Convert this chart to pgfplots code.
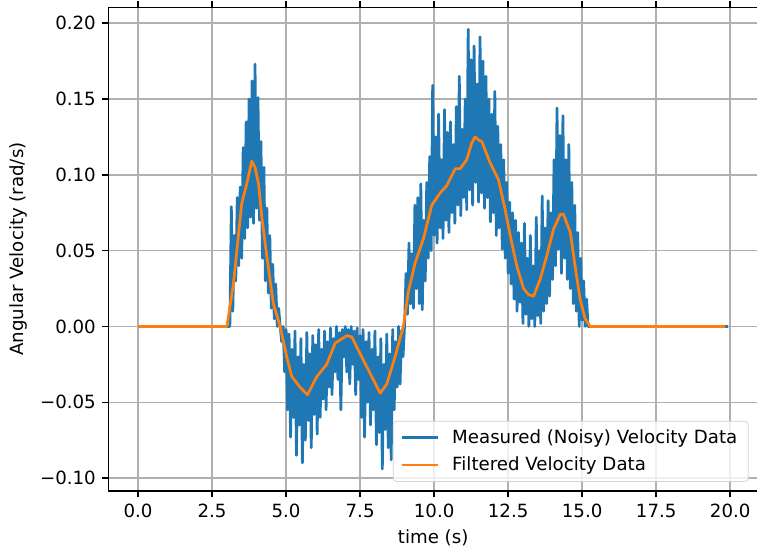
\documentclass[border=0pt]{standalone}
\usepackage{fontspec}
\setmainfont{DejaVu Sans}
\usepackage{pgfplots}
\pgfplotsset{compat=1.18}

\definecolor{mplblue}{HTML}{1F77B4}
\definecolor{mplorange}{HTML}{FF7F0E}
\definecolor{gridgray}{HTML}{B0B0B0}

\begin{document}
\begin{tikzpicture}
\begin{axis}[
    name=ax,
    scale only axis,
    width=357pt, height=266pt,
    xmin=-0.997, xmax=20.93,
    ymin=-0.1085, ymax=0.2105,
    xtick={0,2.5,5,7.5,10,12.5,15,17.5,20},
    xticklabels={0.0,2.5,5.0,7.5,10.0,12.5,15.0,17.5,20.0},
    ytick={-0.1,-0.05,0,0.05,0.1,0.15,0.2},
    yticklabels={−0.10,−0.05,0.00,0.05,0.10,0.15,0.20},
    /pgf/number format/assume math mode=true,
    tick align=outside,
    major tick length=3.5pt,
    every tick/.style={black, line width=0.8pt},
    axis line style={line width=0.8pt},
    grid=major,
    major grid style={gridgray, line width=0.8pt},
    tick label style={font=\fontsize{10}{12}\selectfont},
    label style={font=\fontsize{10}{12}\selectfont},
    xlabel={time (s)},
    ylabel={Angular Velocity (rad/s)},
    legend style={at={(1,0)}, anchor=south east, xshift=-5pt, yshift=5pt,
        draw=black!18, rounded corners=2pt, fill=white, fill opacity=0.8,
        text opacity=1, font=\fontsize{10}{12}\selectfont,
        inner xsep=4pt, inner ysep=2.5pt, row sep=2pt,
        /tikz/every odd column/.append style={column sep=5pt}},
    legend cell align=left,
    legend image code/.code={\draw[#1, line width=1.5pt] (0pt,0pt) -- (20pt,0pt);},
]
\addplot[mplblue, line width=1.5pt, line join=round] coordinates {
(0,0) (3.10,0)
(3.15,0.079) (3.20,0.010) (3.25,0.060) (3.30,0.030) (3.35,0.085) (3.40,0.040)
(3.45,0.092) (3.50,0.045) (3.55,0.118) (3.60,0.058) (3.65,0.135) (3.70,0.065)
(3.75,0.150) (3.80,0.072) (3.85,0.162) (3.90,0.068) (3.95,0.173) (4.00,0.078)
(4.05,0.151) (4.10,0.070) (4.15,0.122) (4.20,0.045) (4.25,0.105) (4.30,0.030)
(4.35,0.078) (4.40,0.022) (4.45,0.060) (4.50,0.012) (4.55,0.041) (4.60,0.005)
(4.65,0.028) (4.70,0.000) (4.75,0.012) (4.80,0.000)
(4.85,-0.010) (4.90,0.000) (4.95,-0.030) (5.00,-0.002) (5.05,-0.055) (5.10,-0.005)
(5.15,-0.073) (5.20,-0.015) (5.25,-0.060) (5.30,-0.003) (5.35,-0.085) (5.40,-0.020)
(5.45,-0.065) (5.50,-0.008) (5.55,-0.090) (5.60,-0.025) (5.65,-0.075) (5.70,-0.004)
(5.75,-0.062) (5.80,-0.018) (5.85,-0.080) (5.90,-0.006) (5.95,-0.058) (6.00,-0.012)
(6.05,-0.071) (6.10,-0.002) (6.15,-0.060) (6.20,-0.015) (6.25,-0.048) (6.30,-0.003)
(6.35,-0.055) (6.40,-0.010) (6.45,-0.040) (6.50,-0.001) (6.55,-0.045) (6.60,-0.008)
(6.65,-0.030) (6.70,0.000) (6.75,-0.035) (6.80,-0.004) (6.85,-0.055) (6.90,-0.002)
(6.95,-0.020) (7.00,0.000) (7.05,-0.030) (7.10,-0.002) (7.15,-0.038) (7.20,0.000)
(7.25,-0.025) (7.30,-0.003) (7.35,-0.045) (7.40,-0.001) (7.45,-0.035) (7.50,-0.006)
(7.55,-0.060) (7.60,-0.002) (7.65,-0.073) (7.70,-0.010) (7.75,-0.050) (7.80,-0.004)
(7.85,-0.065) (7.90,-0.015) (7.95,-0.055) (8.00,-0.003) (8.05,-0.078) (8.10,-0.020)
(8.15,-0.070) (8.20,-0.008) (8.25,-0.094) (8.30,-0.025) (8.35,-0.068) (8.40,-0.005)
(8.45,-0.080) (8.50,-0.018) (8.55,-0.088) (8.60,-0.002) (8.65,-0.055) (8.70,-0.010)
(8.75,-0.040) (8.80,0.000) (8.85,-0.038) (8.90,-0.003) (8.95,-0.020)
(9.00,0.000) (9.05,0.035) (9.10,0.008) (9.15,0.055) (9.20,0.015) (9.25,0.048)
(9.30,0.012) (9.35,0.080) (9.40,0.025) (9.45,0.085) (9.50,0.015) (9.55,0.094)
(9.60,0.011) (9.65,0.070) (9.70,0.030) (9.75,0.095) (9.80,0.045) (9.85,0.112)
(9.90,0.050) (9.95,0.159) (10.00,0.060) (10.05,0.125) (10.10,0.055) (10.15,0.140)
(10.20,0.065) (10.25,0.110) (10.30,0.058) (10.35,0.143) (10.40,0.070) (10.45,0.128)
(10.50,0.062) (10.55,0.135) (10.60,0.075) (10.65,0.120) (10.70,0.068) (10.75,0.145)
(10.80,0.080) (10.85,0.165) (10.90,0.073) (10.95,0.130) (11.00,0.085) (11.05,0.150)
(11.10,0.077) (11.15,0.196) (11.20,0.090) (11.25,0.176) (11.30,0.080) (11.35,0.185)
(11.40,0.095) (11.45,0.160) (11.50,0.082) (11.55,0.191) (11.60,0.088) (11.65,0.175)
(11.70,0.078) (11.75,0.165) (11.80,0.085) (11.85,0.150) (11.90,0.069) (11.95,0.140)
(12.00,0.075) (12.05,0.155) (12.10,0.060) (12.15,0.132) (12.20,0.065) (12.25,0.120)
(12.30,0.051) (12.35,0.110) (12.40,0.045) (12.45,0.095) (12.50,0.035) (12.55,0.082)
(12.60,0.028) (12.65,0.075) (12.70,0.018) (12.75,0.070) (12.80,0.010) (12.85,0.062)
(12.90,0.016) (12.95,0.055) (13.00,0.002) (13.05,0.068) (13.10,0.008) (13.15,0.045)
(13.20,0.000) (13.25,0.060) (13.30,0.005) (13.35,0.040) (13.40,0.000) (13.45,0.072)
(13.50,0.007) (13.55,0.050) (13.60,0.002) (13.65,0.086) (13.70,0.010) (13.75,0.065)
(13.80,0.015) (13.85,0.083) (13.90,0.020) (13.95,0.075) (14.00,0.031) (14.05,0.110)
(14.10,0.040) (14.15,0.144) (14.20,0.051) (14.25,0.126) (14.30,0.035) (14.35,0.139)
(14.40,0.045) (14.45,0.110) (14.50,0.031) (14.55,0.120) (14.60,0.025) (14.65,0.095)
(14.70,0.015) (14.75,0.080) (14.80,0.010) (14.85,0.062) (14.90,0.000) (14.95,0.045)
(15.00,0.004) (15.05,0.030) (15.10,0.000) (15.15,0.018) (15.20,0.000) (15.25,0.000)
(19.93,0)
};
\addlegendentry{Measured (Noisy) Velocity Data}
\addplot[mplorange, line width=1.5pt, line join=round] coordinates {
(0,0) (3.00,0) (3.22,0.028) (3.50,0.081) (3.67,0.094) (3.84,0.109) (3.95,0.105)
(4.07,0.094) (4.18,0.072) (4.35,0.046) (4.57,0.015) (4.80,0.000) (5.02,-0.020)
(5.19,-0.033) (5.47,-0.040) (5.72,-0.045) (6.04,-0.033) (6.37,-0.025) (6.66,-0.011)
(7.05,-0.006) (7.22,-0.007) (7.50,-0.018) (7.84,-0.031) (8.18,-0.044) (8.40,-0.038)
(8.68,-0.020) (8.96,0.000) (9.13,0.023) (9.36,0.042) (9.64,0.058) (9.92,0.080)
(10.20,0.088) (10.43,0.093) (10.71,0.104) (10.88,0.104) (11.10,0.110) (11.27,0.121)
(11.38,0.125) (11.50,0.123) (11.61,0.122) (11.89,0.108) (12.17,0.097) (12.40,0.077)
(12.57,0.060) (12.79,0.040) (13.02,0.025) (13.19,0.021) (13.36,0.020) (13.58,0.031)
(13.81,0.047) (14.03,0.064) (14.26,0.074) (14.37,0.074) (14.60,0.062) (14.76,0.040)
(14.93,0.018) (15.10,0.005) (15.27,0.000) (19.83,0)
};
\addlegendentry{Filtered Velocity Data}
\end{axis}
\pgfresetboundingbox
\useasboundingbox (-59.7pt,-33.6pt) rectangle (356.6pt,270pt);
\end{tikzpicture}
\end{document}
